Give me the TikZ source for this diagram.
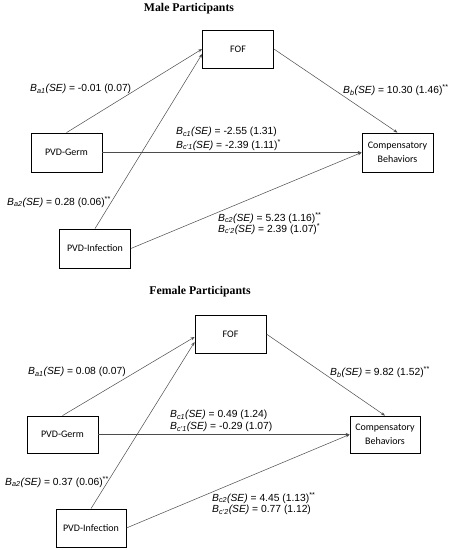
\documentclass[tikz,border=0pt]{standalone}
\usepackage{fontspec}
\setmainfont{Liberation Sans}
\newfontfamily\boxfont{Carlito}
\newfontfamily\titlefont{Liberation Serif}
\usetikzlibrary{arrows.meta}
\newcommand{\Bs}[1]{\textit{B}\textsubscript{\textit{#1}}\textit{(SE)}}
\begin{document}
\begin{tikzpicture}[x=1pt,y=-1pt,
  box/.style={draw, line width=0.8pt, minimum width=71pt, minimum height=38pt, inner sep=0pt, align=center, font=\boxfont\fontsize{10}{13.5}\selectfont},
  lab/.style={anchor=west, inner sep=0pt, font=\fontsize{10.3}{12}\selectfont},
  conn/.style={draw=black!70, line width=0.5pt, -{Stealth[length=4pt,width=3pt]}},
  ttl/.style={font=\titlefont\bfseries\fontsize{11.8}{13}\selectfont}]
\path[use as bounding box, fill=white] (0,0) rectangle (450,550);
% Male
\node[ttl] (tm) at (189,9) {Male Participants};
\node[box] (fof) at (238,49) {FOF};
\node[box, minimum height=39pt] (germ) at (66.5,152.5) {PVD-Germ};
\node[box, minimum height=39pt] (inf) at (95,248.5) {PVD-Infection};
\node[box, minimum height=39pt] (comp) at (397.5,152.5) {Compensatory\\Behaviors};
\draw[conn] (germ.north) -- (fof.west);
\draw[conn] (inf.north) -- ([yshift=-5pt]fof.west);
\draw[conn] (fof.east) -- (comp.north);
\draw[conn] (germ.east) -- (comp.west);
\draw[conn] (inf.east) -- (comp.west);
\node[lab] (la1) at (30,89) {\Bs{a1} = -0.01 (0.07)};
\node[lab] (lb) at (343,90) {\Bs{b} = 10.30 (1.46)\textsuperscript{**}};
\node[lab] (lc1) at (176,132) {\Bs{c1} = -2.55 (1.31)};
\node[lab] (lcp1) at (176,145) {\Bs{c'1} = -2.39 (1.11)\textsuperscript{*}};
\node[lab] (la2) at (7,202) {\Bs{a2} = 0.28 (0.06)\textsuperscript{**}};
\node[lab] (lc2) at (218,218) {\Bs{c2} = 5.23 (1.16)\textsuperscript{**}};
\node[lab] (lcp2) at (218,229) {\Bs{c'2} = 2.39 (1.07)\textsuperscript{*}};
% Female
\node[ttl] (tf) at (200,292) {Female Participants};
\node[box] (ffof) at (230.5,334) {FOF};
\node[box, minimum height=37pt] (fgerm) at (62.5,434.5) {PVD-Germ};
\node[box, minimum width=70pt] (finf) at (91,528) {PVD-Infection};
\node[box, minimum width=70pt, minimum height=37pt] (fcomp) at (385,434.5) {Compensatory\\Behaviors};
\draw[conn] (fgerm.north) -- ([yshift=-3pt]ffof.west);
\draw[conn] (finf.north) -- ([yshift=-8pt]ffof.west);
\draw[conn] (ffof.east) -- (fcomp.north);
\draw[conn] (fgerm.east) -- (fcomp.west);
\draw[conn] (finf.east) -- (fcomp.west);
\node[lab] (fla1) at (28,372) {\Bs{a1} = 0.08 (0.07)};
\node[lab] (flb) at (330,372) {\Bs{b} = 9.82 (1.52)\textsuperscript{**}};
\node[lab] (flc1) at (170,415) {\Bs{c1} = 0.49 (1.24)};
\node[lab] (flcp1) at (170,427) {\Bs{c'1} = -0.29 (1.07)};
\node[lab] (fla2) at (5,482) {\Bs{a2} = 0.37 (0.06)\textsuperscript{**}};
\node[lab] (flc2) at (212,498) {\Bs{c2} = 4.45 (1.13)\textsuperscript{**}};
\node[lab] (flcp2) at (212,510) {\Bs{c'2} = 0.77 (1.12)};
\end{tikzpicture}
\end{document}
